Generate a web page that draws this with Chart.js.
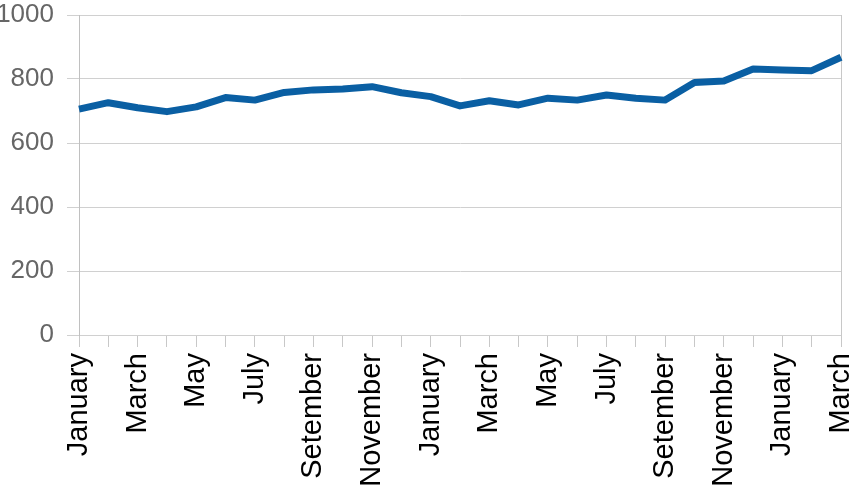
<!DOCTYPE html>
<html>
<head>
<meta charset="utf-8">
<script src="https://cdn.jsdelivr.net/npm/chart.js@4/dist/chart.umd.min.js"></script>
<style>
  html, body { margin: 0; padding: 0; background: #fff; }
</style>
</head>
<body>
<canvas id="myChart" width="855" height="499"></canvas>
<script>
// months, two full years plus Jan-Mar
let months = ['January', 'February', 'March', 'April', 'May', 'June', 'July', 'August',
    'Setember', 'October', 'November', 'December'];
let labels = months.concat(months, ['January', 'February', 'March']);

let values = [706, 726, 710, 698, 713, 742, 734, 758, 766, 769, 776, 757, 745,
    716, 732, 719, 740, 734, 750, 740, 734, 789, 794, 831, 828, 826, 868];

let yTicks = [0, 200, 400, 600, 800, 1000];

let fontFamily = "'Liberation Sans', Arial, sans-serif";

var ctx = document.getElementById('myChart').getContext('2d');

var myChart = new Chart(ctx, {
    type: 'line',
    data: {
        labels: labels,
        datasets: [{
            data: values,
            borderColor: '#0a5fa3',
            borderWidth: 7,
            pointRadius: 0,
            tension: 0,
            borderJoinStyle: 'round'
        }]
    },
    options: {
        responsive: false,
        animation: false,
        layout: {
            padding: { top: 15, right: 14, left: 0, bottom: 0 }
        },
        plugins: {
            legend: { display: false },
            tooltip: { enabled: false }
        },
        scales: {
            x: {
                grid: {
                    drawOnChartArea: false,
                    color: '#c8c8c8',
                    tickLength: 12
                },
                border: { display: false },
                ticks: {
                    autoSkip: false,
                    minRotation: 90,
                    maxRotation: 90,
                    padding: 6,
                    color: '#000',
                    font: { family: fontFamily, size: 29, lineHeight: 1 },
                    callback: function (value, index) {
                        return index % 2 === 0 ? labels[index] : '';
                    }
                },
                afterFit: function (scale) {
                    scale.height = 164;
                    scale.paddingLeft = 0;
                    scale.paddingRight = 0;
                }
            },
            y: {
                min: yTicks[0],
                max: yTicks[yTicks.length - 1],
                grid: {
                    color: '#d0d0d0',
                    tickLength: 12
                },
                border: { display: true, color: '#c0c0c0' },
                ticks: {
                    stepSize: 200,
                    padding: 13,
                    color: '#666',
                    font: { family: fontFamily, size: 26, lineHeight: 1 },
                    callback: function (value) { return String(value); }
                },
                afterFit: function (scale) {
                    scale.width = 79;
                    scale.paddingTop = 0;
                    scale.paddingBottom = 0;
                }
            },
            y2: {
                position: 'right',
                min: 0,
                max: 1000,
                grid: { display: false },
                border: { display: true, color: '#c8c8c8' },
                ticks: { display: false },
                afterFit: function (scale) {
                    scale.width = 0;
                    scale.paddingTop = 0;
                    scale.paddingBottom = 0;
                }
            }
        }
    }
});
</script>
</body>
</html>
